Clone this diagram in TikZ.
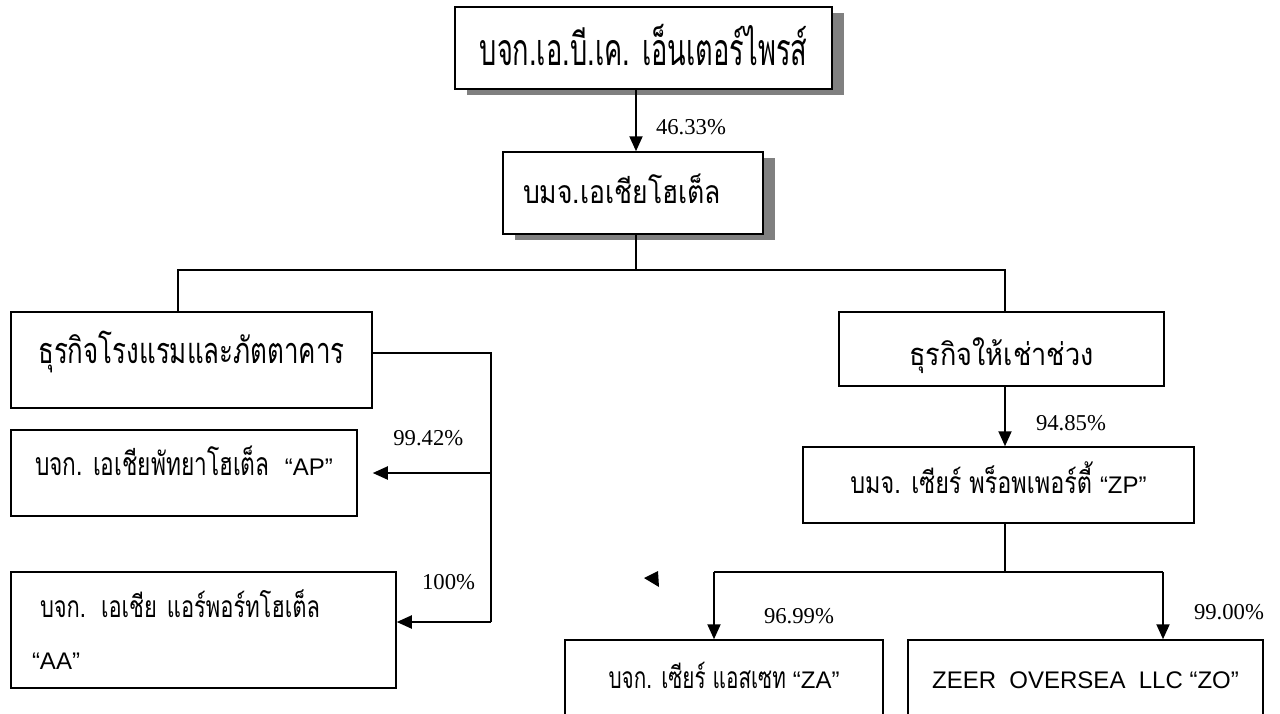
\documentclass[tikz,border=0pt]{standalone}
\usepackage{fontspec}
\setmainfont{Liberation Serif}
\newfontfamily\thaifont[Script=Thai]{Loma}
\newfontfamily\latinsans{Liberation Sans}
\usepackage{tikz}
\usetikzlibrary{arrows.meta, shadows}

\begin{document}
\begin{tikzpicture}[
  x=1pt, y=-1pt,
  company/.style={rectangle, draw=black, line width=1.5pt, fill=white, inner sep=0pt, align=center},
  shadowed/.style={company, general shadow={fill=gray, shadow xshift=12pt, shadow yshift=-6pt}},
  thai/.style n args={2}{font=\thaifont\addfontfeatures{FakeStretch=#2}\fontsize{#1}{52}\selectfont},
  quote/.style={font=\latinsans\fontsize{24}{28}\selectfont},
  pct/.style={font=\fontsize{22.7}{27}\selectfont, inner sep=0pt},
  link/.style={line width=1.3pt},
  arrow/.style={-{Triangle[length=15pt,width=13pt]}, line width=2pt}
]
\useasboundingbox (0,0) rectangle (1280,713);
\clip (0,0) rectangle (1280,713);

\node[shadowed, thai={44.6}{0.61}, minimum width=377pt, minimum height=82pt, text height=34pt, text depth=0pt] (abk) at (643.5,48) {บจก.เอ.บี.เค. เอ็นเตอร์ไพรส์};
\node[shadowed, thai={32}{0.83}, minimum width=260pt, minimum height=82pt, text width=220pt, align=left, text height=20pt, text depth=0pt] (ah) at (633,193) {บมจ.เอเชียโฮเต็ล};
\node[company, thai={36}{0.72}, minimum width=361pt, minimum height=96pt, text height=16pt, text depth=10pt] (hotel) at (191.5,360) {ธุรกิจโรงแรมและภัตตาคาร};
\node[company, thai={31}{0.875}, minimum width=325pt, minimum height=74pt, text height=32pt, text depth=0pt] (lease) at (1001.5,349) {ธุรกิจให้เช่าช่วง};
\node[company, thai={32}{0.71}, minimum width=346pt, minimum height=86pt, text height=10pt, text depth=6pt] (ap) at (184,473) {บจก. เอเชียพัทยาโฮเต็ล\ \ {\latinsans\fontsize{24}{28}\selectfont “AP”}};
\node[company, thai={30}{0.73}, minimum width=385pt, minimum height=116pt, text width=343pt, align=left] (aa) at (203.5,630) {\hspace*{8pt}\mbox{บจก. เอเชีย แอร์พอร์ทโฮเต็ล}\\{\latinsans\fontsize{24}{28}\selectfont “AA”}};
\node[company, thai={30}{0.78}, minimum width=391pt, minimum height=76pt, text height=16pt, text depth=0pt] (zp) at (998.5,485) {บมจ. เซียร์ พร็อพเพอร์ตี้ {\latinsans\fontsize{24}{28}\selectfont “ZP”}};
\node[company, thai={30}{0.69}, minimum width=318pt, minimum height=80pt, text height=16pt, text depth=0pt] (za) at (724,680) {บจก. เซียร์ แอสเซท {\latinsans\fontsize{24}{28}\selectfont “ZA”}};
\node[company, quote, minimum width=355pt, minimum height=80pt, text height=16pt, text depth=0pt] (zo) at (1085.5,680) {ZEER\ \ OVERSEA\ \ LLC “ZO”};

\coordinate (hbus) at (636,270);
\coordinate (hdrop) at (491,622);
\coordinate (zbus) at (1005,572);
\coordinate (zl) at (714,572);
\coordinate (zr) at (1163,572);

\draw[arrow] (abk.south -| hbus) -- (ah.north -| hbus) node[pct, pos=0.6, right=19pt] {46.33\%};
\draw[link] (ah.south -| hbus) -- (hbus);
\draw[link] ([xshift=-13.5pt]hotel.north) |- (hbus) -| ([xshift=3.5pt]lease.north);

\draw[link] ([yshift=7pt]hotel.east) -| (hdrop);
\draw[arrow] (hdrop |- ap.east) -- ([xshift=15pt]ap.east) node[pct, pos=0.53, above=26pt] {99.42\%};
\draw[arrow] (hdrop) -- (aa.east |- hdrop) node[pct, pos=0.45, above=31pt] {100\%};

\draw[arrow] (lease.south -| zbus) -- (zp.north -| zbus) node[pct, pos=0.61, right=30pt] {94.85\%};
\draw[link] (zp.south -| zbus) -- (zbus);
\draw[link] (zl) -- (zr);
\draw[arrow] (zl) -- (za.north -| zl) node[pct, pos=0.66, right=49pt] {96.99\%};
\draw[arrow] (zr) -- (zo.north -| zr) node[pct, pos=0.59, right=30pt] {99.00\%};

\fill (644,578) -- (658,571) -- (659,587) -- cycle;

\end{tikzpicture}
\end{document}
